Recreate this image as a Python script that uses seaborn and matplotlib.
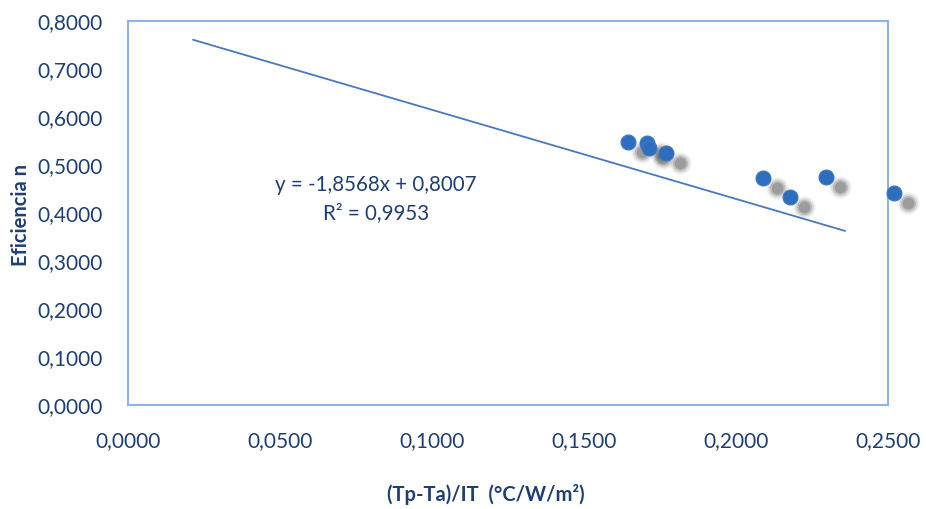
import numpy as np
import pandas as pd
import seaborn as sns
import matplotlib.pyplot as plt
import matplotlib.transforms as mtransforms

x_vals = [0.1645, 0.1707, 0.1714, 0.1770, 0.2089, 0.2178, 0.2296, 0.2520]
y_vals = [0.548, 0.546, 0.535, 0.525, 0.473, 0.433, 0.475, 0.442]

# linear trendline as printed on the chart
slope = -1.8568
intercept = 0.8007
r2 = 0.9953
trend_x = [0.0214, 0.2359]

x_ticks = [0.0, 0.05, 0.10, 0.15, 0.20, 0.25]
y_ticks = [0.0, 0.1, 0.2, 0.3, 0.4, 0.5, 0.6, 0.7, 0.8]

text_col = '#1F3F73'
point_col = '#2F6DBF'
frame_col = '#8EB4E3'


def fmt(v):
    return "{:.4f}".format(v).replace('.', ',')


def main():
    sns.set_style("white")
    plt.rcParams['font.family'] = ['Lato', 'DejaVu Sans']

    df = pd.DataFrame({'x': x_vals, 'y': y_vals})
    trend = pd.DataFrame({'x': trend_x,
                          'y': [slope * v + intercept for v in trend_x]})

    fig = plt.figure(figsize=(9.26, 5.09), dpi=100)
    ax = fig.add_axes([0.1382, 0.2043, 0.8207, 0.7544])

    # soft shadow behind each marker
    shadow = mtransforms.offset_copy(ax.transData, fig=fig, x=10, y=-7, units='points')
    for a, s in [(0.08, 260), (0.14, 180), (0.22, 120), (0.3, 70)]:
        ax.scatter(df['x'], df['y'], s=s, color='#555555', alpha=a,
                   linewidths=0, transform=shadow, zorder=2, clip_on=False)

    sns.lineplot(data=trend, x='x', y='y', ax=ax, color='#4A78C0',
                 linewidth=1.3, zorder=3)
    sns.scatterplot(data=df, x='x', y='y', ax=ax, s=115, color=point_col,
                    edgecolor='#3A78C8', linewidth=0.8, zorder=4, clip_on=False)

    ax.set_xlim(0, 0.25)
    ax.set_ylim(0, 0.8)
    ax.set_xticks(x_ticks)
    ax.set_xticklabels([fmt(v) for v in x_ticks])
    ax.set_yticks(y_ticks)
    ax.set_yticklabels([fmt(v) for v in y_ticks])
    ax.tick_params(axis='both', length=0, labelsize=15, colors=text_col)
    ax.tick_params(axis='x', pad=19)
    ax.tick_params(axis='y', pad=18)

    for sp in ax.spines.values():
        sp.set_color(frame_col)
        sp.set_linewidth(1.5)

    ax.set_xlabel('(Tp-Ta)/IT  (°C/W/m²)', fontsize=14.5, fontweight='bold', color=text_col)
    ax.set_ylabel('Eficiencia n', fontsize=14.5, fontweight='bold', color=text_col)
    ax.xaxis.set_label_coords(0.471, -0.205)
    ax.yaxis.set_label_coords(-0.128, 0.495)

    eq = "y = {:.4f}x + {:.4f}".format(slope, intercept).replace('.', ',')
    ax.text(0.0816, 0.458, eq, ha='center', va='center', fontsize=14.8, color=text_col)
    ax.text(0.0816, 0.400, "R² = " + "{:.4f}".format(r2).replace('.', ','),
            ha='center', va='center', fontsize=14.8, color=text_col)

    plt.savefig("out.png", dpi=100)
    plt.close()


if __name__ == '__main__':
    main()
